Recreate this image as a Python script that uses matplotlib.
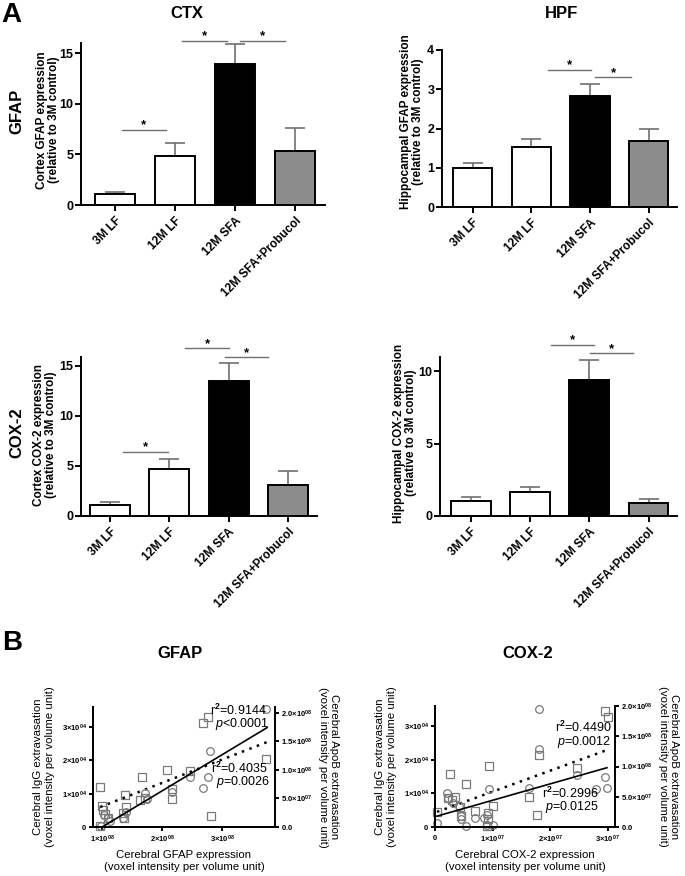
import numpy as np
import matplotlib
matplotlib.use("Agg")
import matplotlib.pyplot as plt

# ── Data ──────────────────────────────────────────────────────────────────────
groups = ["3M LF", "12M LF", "12M SFA", "12M SFA+Probucol"]
bar_colors = ["white", "white", "black", "#8c8c8c"]

ctx_gfap = [1.08, 4.87, 13.89, 5.36]
ctx_gfap_err = [0.22, 1.28, 1.97, 2.20]
hpf_gfap = [1.00, 1.54, 2.83, 1.69]
hpf_gfap_err = [0.13, 0.19, 0.30, 0.29]
ctx_cox2 = [1.10, 4.75, 13.47, 3.08]
ctx_cox2_err = [0.27, 1.00, 1.80, 1.43]
hpf_cox2 = [1.04, 1.68, 9.40, 0.90]
hpf_cox2_err = [0.25, 0.30, 1.39, 0.28]

# significance lines: (x start, x end, height)
ctx_gfap_sig = [(0.11, 0.85, 7.4), (1.11, 1.86, 16.2), (2.09, 2.84, 16.2)]
hpf_gfap_sig = [(1.29, 2.01, 3.50), (2.09, 2.70, 3.30)]
ctx_cox2_sig = [(0.21, 0.97, 6.41), (1.26, 2.01, 16.77), (1.94, 2.67, 15.87)]
hpf_cox2_sig = [(1.35, 2.08, 11.83), (2.01, 2.74, 11.25)]

# B: GFAP correlations (squares = IgG, left axis; circles = ApoB, right axis)
gfap_igg_x = [0.97e8, 1.00e8, 1.02e8, 1.05e8, 1.10e8, 0.97e8, 1.38e8, 1.40e8, 1.35e8,
              1.37e8, 1.63e8, 1.67e8, 1.72e8, 2.08e8, 2.17e8, 2.17e8, 2.47e8, 2.68e8,
              2.77e8, 2.82e8, 3.73e8]
gfap_igg_y = [1.20e4, 0.63e4, 0.51e4, 0.39e4, 0.27e4, 0.03e4, 0.96e4, 0.60e4, 0.42e4,
              0.27e4, 0.81e4, 1.50e4, 0.87e4, 1.71e4, 1.14e4, 0.84e4, 1.68e4, 3.12e4,
              3.30e4, 0.33e4, 2.04e4]
gfap_apob_x = [0.98e8, 1.03e8, 1.10e8, 1.13e8, 1.35e8, 1.40e8, 1.72e8, 1.75e8, 2.17e8,
               2.47e8, 2.68e8, 2.77e8, 2.80e8, 3.73e8]
gfap_apob_y = [0.02e8, 0.21e8, 0.16e8, 0.10e8, 0.16e8, 0.26e8, 0.60e8, 0.49e8, 0.61e8,
               0.88e8, 0.68e8, 0.88e8, 1.33e8, 2.07e8]
gfap_igg_fit_x = [0.97e8, 3.75e8]
gfap_igg_fit_y = [0.60e4, 2.55e4]
gfap_apob_fit_x = [0.97e8, 3.75e8]
gfap_apob_fit_y = [-0.02e8, 1.74e8]

# B: COX-2 correlations
cox_igg_x = [0.035e7, 0.23e7, 0.30e7, 0.35e7, 0.26e7, 0.43e7, 0.54e7, 0.45e7, 0.70e7,
             0.92e7, 0.92e7, 0.94e7, 1.01e7, 1.63e7, 1.81e7, 1.77e7, 2.47e7, 2.96e7,
             3.01e7, 0.90e7]
cox_igg_y = [0.45e4, 0.86e4, 0.80e4, 0.89e4, 1.57e4, 0.59e4, 1.28e4, 0.33e4, 0.48e4,
             0.42e4, 0.24e4, 1.81e4, 0.62e4, 0.89e4, 2.14e4, 0.36e4, 1.75e4, 3.45e4,
             3.27e4, 0.03e4]
cox_apob_x = [0.035e7, 0.21e7, 0.23e7, 0.31e7, 0.42e7, 0.45e7, 0.45e7, 0.54e7, 0.70e7,
              0.85e7, 0.90e7, 0.94e7, 0.90e7, 1.01e7, 1.63e7, 1.81e7, 1.81e7, 2.47e7,
              2.80e7, 2.96e7, 2.99e7]
cox_apob_y = [0.07e8, 0.56e8, 0.48e8, 0.40e8, 0.35e8, 0.18e8, 0.13e8, 0.02e8, 0.15e8,
              0.15e8, 0.20e8, 0.63e8, 0.03e8, 0.03e8, 0.64e8, 1.95e8, 1.29e8, 0.86e8,
              0.63e8, 0.83e8, 0.64e8]
cox_igg_fit_x = [0.035e7, 2.99e7]
cox_igg_fit_y = [0.45e4, 2.29e4]
cox_apob_fit_x = [0.035e7, 2.99e7]
cox_apob_fit_y = [0.18e8, 0.98e8]

# ── Style ─────────────────────────────────────────────────────────────────────
plt.rcParams.update({
    "font.family": "Liberation Sans",
    "font.weight": "bold",
    "mathtext.fontset": "custom",
    "mathtext.rm": "Liberation Sans",
    "mathtext.bf": "Liberation Sans:bold",
    "mathtext.it": "Liberation Sans:italic:normal",
    "axes.linewidth": 1.4,
    "xtick.major.width": 1.4,
    "ytick.major.width": 1.4,
    "xtick.major.size": 4,
    "ytick.major.size": 4,
})

W, H = 685, 876
fig = plt.figure(figsize=(W / 100, H / 100), dpi=100)


def px_axes(l, t, r, b):
    return fig.add_axes([l / W, 1 - b / H, (r - l) / W, (b - t) / H])


def ftext(x, y, s, **kw):
    fig.text(x / W, 1 - y / H, s, **kw)


def bar_panel(box, vals, errs, sig, ylim, yticks, xlim):
    ax = px_axes(*box)
    x = np.arange(len(groups))
    ax.bar(x, vals, 0.67, color=bar_colors, edgecolor="black", linewidth=1.4, zorder=2)
    ax.errorbar(x, vals, yerr=[np.zeros(len(vals)), errs], fmt="none",
                ecolor="#707070", elinewidth=1.2, capsize=7.5, capthick=1.2, zorder=1)
    for x0, x1, y in sig:
        ax.plot([x0, x1], [y, y], color="#707070", lw=1.0, clip_on=False)
        ax.annotate("*", ((x0 + x1) / 2, y), xytext=(0, -1), textcoords="offset points",
                    ha="center", va="bottom", fontsize=9.5, annotation_clip=False)
    ax.set_xlim(*xlim)
    ax.set_ylim(*ylim)
    ax.set_yticks(yticks)
    ax.set_xticks(x)
    ax.set_xticklabels(groups, rotation=45, ha="right", rotation_mode="anchor", fontsize=8.5)
    ax.tick_params(axis="y", labelsize=9, pad=1.5)
    ax.tick_params(axis="x", pad=3)
    ax.spines["top"].set_visible(False)
    ax.spines["right"].set_visible(False)
    return ax


bar_panel((81, 43, 325, 205), ctx_gfap, ctx_gfap_err, ctx_gfap_sig, (0, 16), [0, 5, 10, 15], (-0.57, 3.5))
bar_panel((442, 50, 677, 207), hpf_gfap, hpf_gfap_err, hpf_gfap_sig, (0, 4), [0, 1, 2, 3, 4], (-0.52, 3.48))
bar_panel((81, 357, 317, 516), ctx_cox2, ctx_cox2_err, ctx_cox2_sig, (0, 15.9), [0, 5, 10, 15], (-0.49, 3.49))
bar_panel((440, 357, 677, 516), hpf_cox2, hpf_cox2_err, hpf_cox2_sig, (0, 11), [0, 5, 10], (-0.52, 3.48))

ylab_kw = dict(rotation=90, ha="center", va="center", fontsize=8.5, linespacing=1.0)
ftext(48, 120, "Cortex GFAP expression\n(relative to 3M control)", **ylab_kw)
ftext(412, 122, "Hippocampal GFAP expression\n(relative to 3M control)", **ylab_kw)
ftext(45, 435, "Cortex COX-2 expression\n(relative to 3M control)", **ylab_kw)
ftext(405, 433, "Hippocampal COX-2 expression\n(relative to 3M control)", **ylab_kw)

ftext(11, 15, "A", fontsize=20, ha="center", va="center")
ftext(187, 14, "CTX", fontsize=12, ha="center", va="center")
ftext(561, 14, "HPF", fontsize=12, ha="center", va="center")
ftext(17, 111, "GFAP", fontsize=12, rotation=90, ha="center", va="center")
ftext(17, 433, "COX-2", fontsize=12, rotation=90, ha="center", va="center")
ftext(12, 643, "B", fontsize=20, ha="center", va="center")
ftext(180, 653, "GFAP", fontsize=12, ha="center", va="center")
ftext(528, 653, "COX-2", fontsize=12, ha="center", va="center")


# ── Correlation panels ───────────────────────────────────────────────────────
def sci(v, dec=0):
    if v == 0:
        return "$\\mathbf{0.0}$" if dec else "$\\mathbf{0}$"
    e = int(np.floor(np.log10(abs(v))))
    m = v / 10 ** e
    return "$\\mathbf{%.*f{\\times}10^{%02d}}$" % (dec, m, e)


def corr_panel(box, sx, sy, cx, cy, fsx, fsy, fcx, fcy, xlim, xticks, rlim, rticks, xlabel):
    ax = px_axes(*box)
    ax2 = ax.twinx()
    ax.plot(sx, sy, ls="none", marker="s", ms=5.5, mfc="none", mec="#7a7a7a", mew=0.9, clip_on=False)
    ax2.plot(cx, cy, ls="none", marker="o", ms=5.5, mfc="none", mec="#7a7a7a", mew=0.9, clip_on=False)
    ax.plot(fsx, fsy, color="black", ls=(0, (1, 2.2)), lw=1.8)
    ax2.plot(fcx, fcy, color="black", ls="-", lw=1.2)
    ax.set_xlim(*xlim)
    ax.set_ylim(0, 3.6e4)
    ax2.set_ylim(*rlim)
    ax.set_xticks(xticks)
    ax.set_xticklabels([sci(v) for v in xticks])
    ax.set_yticks([0, 1e4, 2e4, 3e4])
    ax.set_yticklabels([sci(v) for v in [0, 1e4, 2e4, 3e4]])
    ax2.set_yticks(rticks)
    ax2.set_yticklabels([sci(v, 1) for v in rticks])
    for a in (ax, ax2):
        a.spines["top"].set_visible(False)
        a.tick_params(labelsize=5.5, length=3, pad=1.5)
    ax.spines["right"].set_visible(False)
    ax.set_xlabel(xlabel, fontsize=8.2, labelpad=4, linespacing=1.2)
    ax.set_ylabel("Cerebral IgG extravasation\n(voxel intensity per volume unit)",
                  fontsize=8.2, labelpad=5, linespacing=1.15)
    ax2.set_ylabel("Cerebral ApoB extravasation\n(voxel intensity per volume unit)",
                   fontsize=8.2, rotation=270, va="bottom", labelpad=4, linespacing=1.1)
    return ax


corr_panel((93, 707, 275, 827), gfap_igg_x, gfap_igg_y, gfap_apob_x, gfap_apob_y,
           gfap_igg_fit_x, gfap_igg_fit_y, gfap_apob_fit_x, gfap_apob_fit_y,
           (0.85e8, 3.88e8), [1e8, 2e8, 3e8], (0, 2.1e8), [0, 5e7, 1e8, 1.5e8, 2e8],
           "Cerebral GFAP expression\n(voxel intensity per volume unit)")
corr_panel((435, 706, 615, 827), cox_igg_x, cox_igg_y, cox_apob_x, cox_apob_y,
           cox_igg_fit_x, cox_igg_fit_y, cox_apob_fit_x, cox_apob_fit_y,
           (0, 3.13e7), [0, 1e7, 2e7, 3e7], (0, 2.0e8), [0, 5e7, 1e8, 1.5e8, 2e8],
           "Cerebral COX-2 expression\n(voxel intensity per volume unit)")

st_kw = dict(fontsize=9, fontweight="normal", ha="left", va="center")
ftext(210, 710, "r$^2$=0.9144", **st_kw)
ftext(215, 724, "$p$<0.0001", **st_kw)
ftext(211, 768, "r$^2$=0.4035", **st_kw)
ftext(216, 782, "$p$=0.0026", **st_kw)
ftext(555, 727, "r$^2$=0.4490", **st_kw)
ftext(557, 742, "$p$=0.0012", **st_kw)
ftext(542, 793, "r$^2$=0.2996", **st_kw)
ftext(545, 807, "$p$=0.0125", **st_kw)

fig.savefig("out.png", dpi=100)
